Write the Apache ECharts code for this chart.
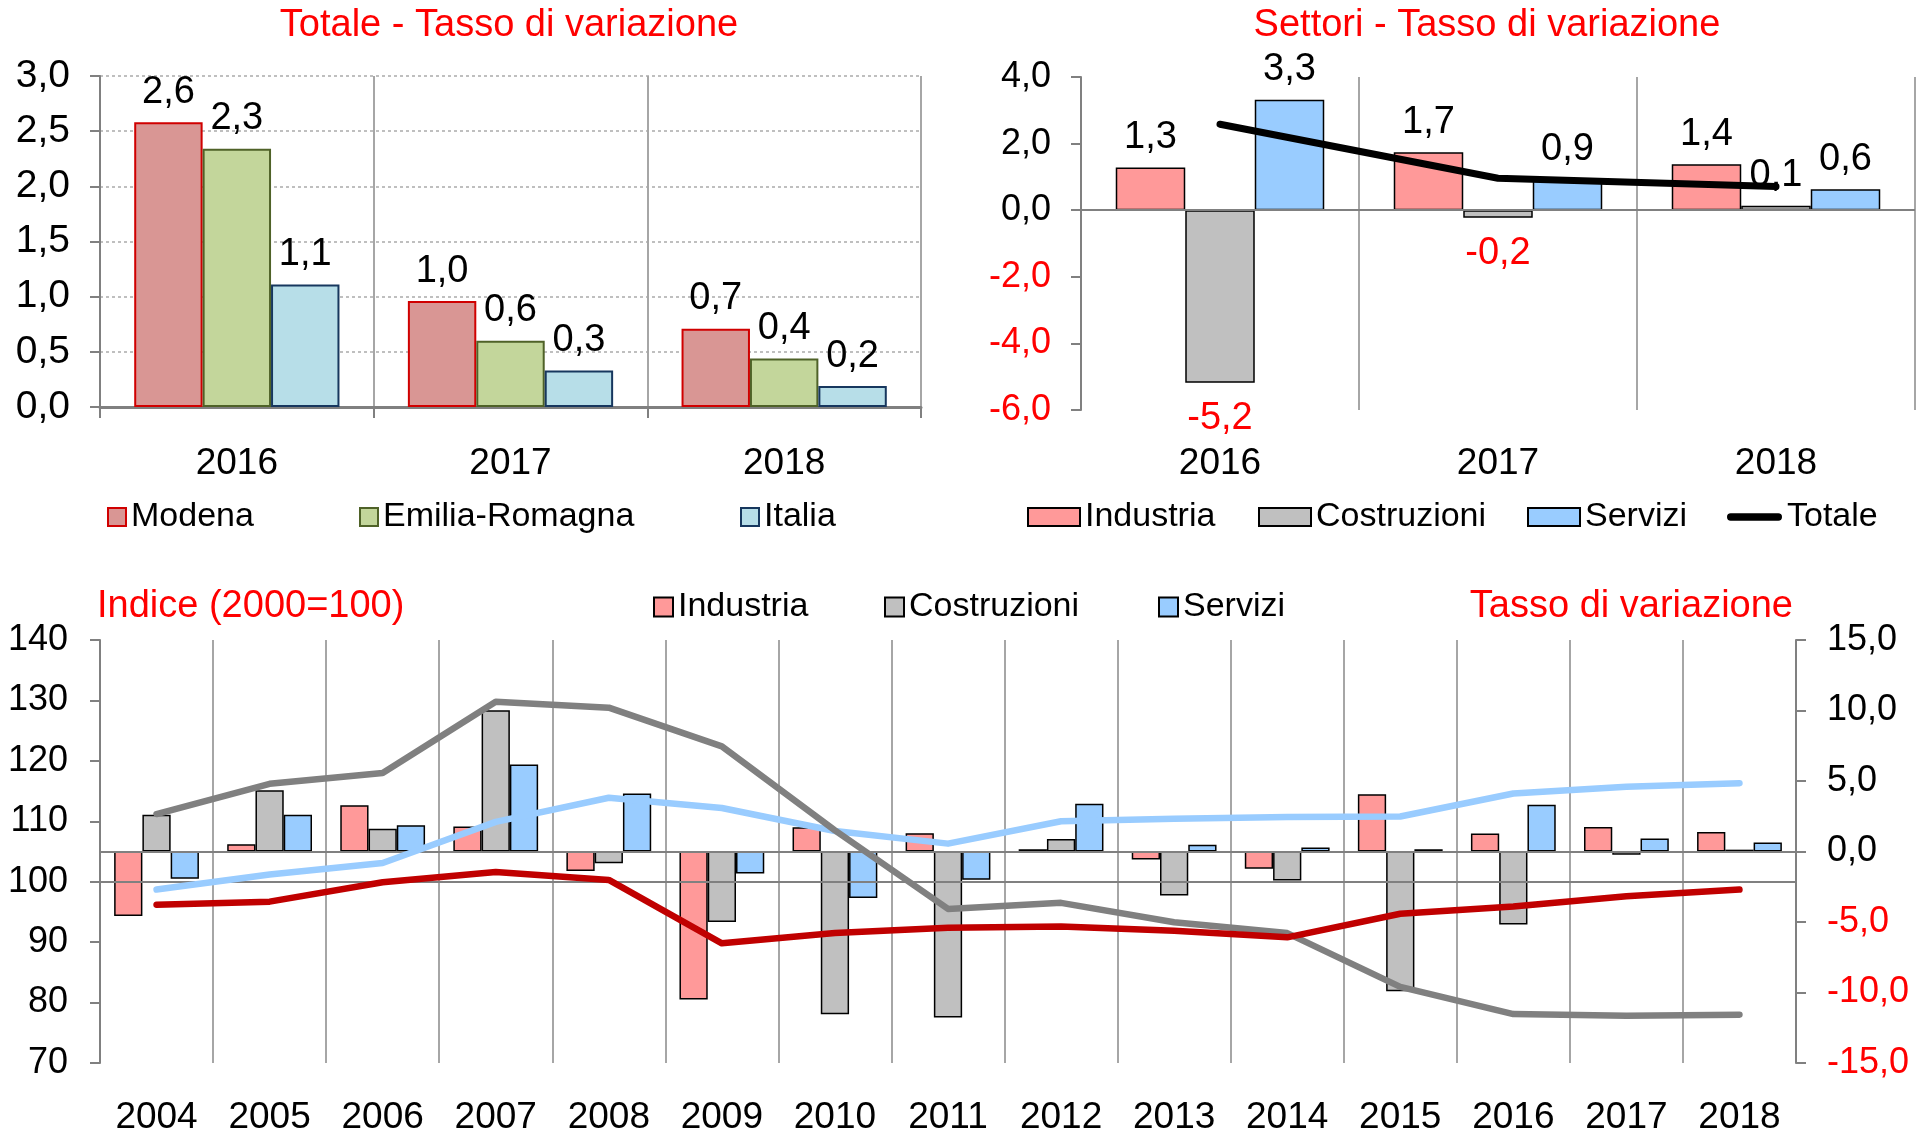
<!DOCTYPE html>
<html>
<head>
<meta charset="utf-8">
<title>Modena - Tasso di variazione</title>
<script src="https://cdn.jsdelivr.net/npm/echarts@6/dist/echarts.min.js"></script>
<style>
  html, body { margin: 0; padding: 0; background: #fff; }
  #chart { width: 1919px; height: 1136px; }
</style>
</head>
<body>
<div id="chart"></div>
<script>
// anni
const anniRecenti = ['2016', '2017', '2018'];
const anni = ['2004', '2005', '2006', '2007', '2008', '2009', '2010', '2011',
  '2012', '2013', '2014', '2015', '2016', '2017', '2018'];

// Totale - tasso di variazione
const modena = [2.58, 0.96, 0.71];
const emiliaRomagna = [2.34, 0.60, 0.44];
const italia = [1.11, 0.33, 0.19];

// Settori - tasso di variazione 2004-2018 (gli ultimi tre anni vanno anche nel grafico in alto)
const tassoIndustria = [-4.58, 0.52, 3.28, 1.77, -1.38, -10.5, 1.72, 1.30, 0.16, -0.57, -1.22, 4.06, 1.28, 1.74, 1.38];
const tassoCostruzioni = [2.60, 4.35, 1.61, 10.02, -0.83, -5.0, -11.55, -11.78, 0.88, -3.12, -2.06, -9.92, -5.18, -0.23, 0.13];
const tassoServizi = [-1.93, 2.60, 1.87, 6.17, 4.11, -1.56, -3.29, -2.01, 3.38, 0.47, 0.29, 0.16, 3.32, 0.92, 0.63];
const totaleSettori = [2.58, 0.96, 0.71];

// Indice (2000=100)
const indiceIndustria = [96.2, 96.7, 99.9, 101.6, 100.3, 89.8, 91.5, 92.4, 92.6, 91.9, 90.8, 94.7, 95.9, 97.6, 98.7];
const indiceCostruzioni = [111.2, 116.2, 118.0, 129.8, 128.8, 122.4, 108.5, 95.5, 96.5, 93.3, 91.5, 82.6, 78.1, 77.8, 78.0];
const indiceServizi = [98.7, 101.2, 103.1, 109.9, 113.9, 112.2, 108.4, 106.3, 110.0, 110.4, 110.7, 110.8, 114.6, 115.7, 116.3];

const FONT = '"Liberation Sans", Arial, Helvetica, sans-serif';
const NERO = '#000000';
const ROSSO = '#FF0000';
const GRIGIO = '#808080';
const GRIGLIA = '#A6A6A6';

// icona della legenda per la linea Totale (tratto spesso con estremi arrotondati)
const ICONA_LINEA = 'path://M3.5,0 H48.5 A3.5,3.5 0 0 1 48.5,7 H3.5 A3.5,3.5 0 0 1 3.5,0 Z';

const virgola = (v, d) => v.toFixed(d).replace('.', ',');
const coloreNeg = v => (v < 0 ? ROSSO : NERO);

// valori negativi: etichetta sotto la barra, in rosso
function conEtichette(values) {
  return values.map(v => (v < 0
    ? { value: v, label: { position: 'bottom', distance: 17, color: ROSSO } }
    : v));
}

const etichettaBarra = {
  show: true,
  position: 'top',
  distance: 11,
  fontFamily: FONT,
  fontSize: 38,
  color: NERO,
  formatter: p => virgola(p.value, 1)
};

function barre(name, data, fill, border, borderWidth, xi, yi, label) {
  return {
    name: name,
    type: 'bar',
    xAxisIndex: xi,
    yAxisIndex: yi,
    data: data,
    barGap: '0%',
    barCategoryGap: '25%',
    itemStyle: { color: fill, borderColor: border, borderWidth: borderWidth },
    label: label ? etichettaBarra : { show: false },
    emphasis: { disabled: true }
  };
}

function linea(name, data, color, width, xi, yi) {
  return {
    name: name,
    type: 'line',
    xAxisIndex: xi,
    yAxisIndex: yi,
    data: data,
    symbol: 'none',
    lineStyle: { color: color, width: width, cap: 'round', join: 'round' },
    itemStyle: { color: color },
    emphasis: { disabled: true },
    z: 5
  };
}

function lineaZero(value) {
  return {
    silent: true,
    symbol: 'none',
    label: { show: false },
    lineStyle: { color: GRIGIO, width: 2, type: 'solid' },
    emphasis: { disabled: true },
    data: [{ yAxis: value }]
  };
}

function voce(name, left, top, w, h, icon) {
  return {
    data: [name],
    left: left,
    top: top,
    itemWidth: w,
    itemHeight: h,
    icon: icon,
    padding: 0,
    selectedMode: false,
    textStyle: { fontFamily: FONT, fontSize: 34, color: NERO }
  };
}

function titolo(text, left, top, align) {
  return {
    text: text,
    left: left,
    top: top,
    padding: 0,
    textAlign: align,
    textVerticalAlign: 'top',
    textStyle: { fontFamily: FONT, fontSize: 38, fontWeight: 'normal', color: ROSSO }
  };
}

const assiX = (data, gi, margin, showLine) => ({
  type: 'category',
  gridIndex: gi,
  data: data,
  axisLine: showLine
    ? { show: true, lineStyle: { color: GRIGIO, width: 3 } }
    : { show: false, onZero: false },
  axisTick: showLine
    ? { show: true, length: 11, lineStyle: { color: GRIGIO, width: 2 } }
    : { show: false },
  axisLabel: { interval: 0, margin: margin, fontFamily: FONT, fontSize: 37, color: NERO },
  splitLine: { show: true, interval: 0, lineStyle: { color: GRIGLIA, width: 2 } }
});

const assiY = (gi, min, max, interval, decimals, margin, fontSize, extra) => Object.assign({
  type: 'value',
  gridIndex: gi,
  min: min,
  max: max,
  interval: interval,
  axisLine: { show: true, lineStyle: { color: GRIGIO, width: 2 } },
  axisTick: { show: true, length: 10, lineStyle: { color: GRIGIO, width: 2 } },
  axisLabel: {
    margin: margin,
    fontFamily: FONT,
    fontSize: fontSize,
    color: v => coloreNeg(Number(v)),
    formatter: v => virgola(v, decimals)
  },
  splitLine: { show: false }
}, extra || {});

const option = {
  animation: false,
  backgroundColor: '#ffffff',
  title: [
    titolo('Totale - Tasso di variazione', 509, 7, 'center'),
    titolo('Settori - Tasso di variazione', 1487, 7, 'center'),
    titolo('Indice (2000=100)', 97, 588, 'left'),
    titolo('Tasso di variazione', 1793, 588, 'right')
  ],
  legend: [
    voce('Modena', 107, 500, 18, 18, 'rect'),
    voce('Emilia-Romagna', 359, 500, 18, 18, 'rect'),
    voce('Italia', 740, 500, 18, 18, 'rect'),
    voce('Industria', 1027, 500, 52, 18, 'rect'),
    voce('Costruzioni', 1258, 500, 52, 18, 'rect'),
    voce('Servizi', 1527, 500, 52, 18, 'rect'),
    voce('Totale', 1727, 500, 55, 8, ICONA_LINEA),
    voce('Industria', 653, 590, 19, 19, 'rect'),
    voce('Costruzioni', 884, 590, 19, 19, 'rect'),
    voce('Servizi', 1158, 590, 19, 19, 'rect')
  ],
  grid: [
    { left: 100, top: 76, width: 821, height: 331, outerBoundsMode: 'none' },
    { left: 1081, top: 77, width: 834, height: 333, outerBoundsMode: 'none' },
    { left: 100, top: 640, width: 1696, height: 423, outerBoundsMode: 'none' }
  ],
  xAxis: [
    assiX(anniRecenti, 0, 38, true),
    assiX(anniRecenti, 1, 35, false),
    assiX(anni, 2, 36, false)
  ],
  yAxis: [
    assiY(0, 0, 3, 0.5, 1, 30, 39, {
      splitLine: { show: true, lineStyle: { color: '#BFBFBF', width: 2, type: [3, 3] } }
    }),
    assiY(1, -6, 4, 2, 1, 30, 36),
    assiY(2, 70, 140, 10, 0, 32, 36),
    assiY(2, -15, 15, 5, 1, 31, 36, { position: 'right' })
  ],
  series: [
    // Totale - tasso di variazione
    barre('Modena', modena, '#D99694', '#D00000', 2, 0, 0, true),
    barre('Emilia-Romagna', emiliaRomagna, '#C3D69B', '#4F6228', 2, 0, 0, true),
    barre('Italia', italia, '#B7DEE8', '#17375E', 2, 0, 0, true),

    // Settori - tasso di variazione
    Object.assign(barre('Industria', conEtichette(tassoIndustria.slice(-3)), '#FF9999', NERO, 1.5, 1, 1, true),
      { markLine: lineaZero(0) }),
    barre('Costruzioni', conEtichette(tassoCostruzioni.slice(-3)), '#C0C0C0', NERO, 1.5, 1, 1, true),
    barre('Servizi', conEtichette(tassoServizi.slice(-3)), '#99CCFF', NERO, 1.5, 1, 1, true),
    linea('Totale', totaleSettori, NERO, 7, 1, 1),

    // Indice e tasso di variazione per settore
    Object.assign(barre('Industria', tassoIndustria, '#FF9999', NERO, 1.5, 2, 3, false),
      { markLine: lineaZero(0) }),
    barre('Costruzioni', tassoCostruzioni, '#C0C0C0', NERO, 1.5, 2, 3, false),
    barre('Servizi', tassoServizi, '#99CCFF', NERO, 1.5, 2, 3, false),
    Object.assign(linea('Indice Servizi', indiceServizi, '#99CCFF', 6.5, 2, 2),
      { markLine: lineaZero(100) }),
    linea('Indice Costruzioni', indiceCostruzioni, GRIGIO, 6.5, 2, 2),
    linea('Indice Industria', indiceIndustria, '#C00000', 6.5, 2, 2)
  ]
};

const chart = echarts.init(document.getElementById('chart'), null, { renderer: 'canvas' });
chart.setOption(option);
</script>
</body>
</html>
